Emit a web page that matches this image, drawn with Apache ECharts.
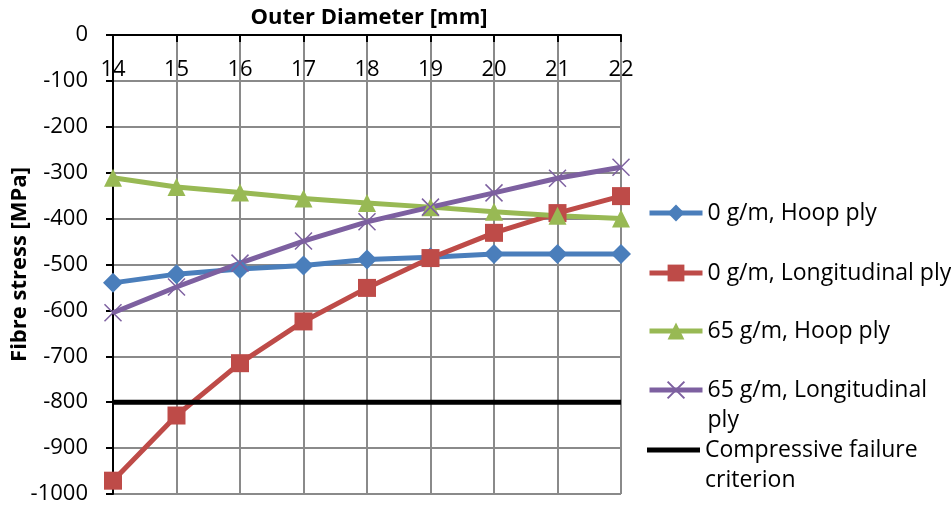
<!DOCTYPE html>
<html>
<head>
<meta charset="utf-8">
<script src="https://cdn.jsdelivr.net/npm/echarts@6/dist/echarts.min.js"></script>
<style>
  html, body { margin: 0; padding: 0; background: #fff; }
  #chart { width: 951px; height: 505px; }
</style>
</head>
<body>
<div id="chart"></div>
<script>
// Outer diameter (mm)
var diameters = ['14', '15', '16', '17', '18', '19', '20', '21', '22'];

// Fibre stress (MPa) per configuration
var hoop0 = [-540, -521, -510, -502, -489, -484, -477, -477, -477];
var longitudinal0 = [-971, -829, -715, -624, -551, -486, -431, -388, -351];
var hoop65 = [-311, -331, -343, -356, -366, -375, -385, -394, -400];
var longitudinal65 = [-605, -549, -497, -449, -407, -375, -344, -312, -288];
var failureCriterion = [-800, -800, -800, -800, -800, -800, -800, -800, -800];

var seriesNames = [
  '0 g/m, Hoop ply',
  '0 g/m, Longitudinal ply',
  '65 g/m, Hoop ply',
  '65 g/m, Longitudinal ply',
  'Compressive failure criterion'
];

// Wrapped legend labels; the leading blank line keeps the icon level with the first line
var legendLabels = {};
legendLabels[seriesNames[3]] = '\n65 g/m, Longitudinal\nply';
legendLabels[seriesNames[4]] = '\nCompressive failure\ncriterion';

var FONT = 'Open Sans';
var crossPath = 'path://M0,0L10,10M10,0L0,10';

function lineSeries(name, data, color, symbol, size, width, extra) {
  var s = {
    name: name,
    type: 'line',
    data: data,
    symbol: symbol,
    symbolSize: size,
    showSymbol: symbol !== 'none',
    lineStyle: { color: color, width: width },
    itemStyle: { color: color },
    emphasis: { disabled: true },
    animation: false
  };
  if (extra) Object.assign(s.itemStyle, extra);
  return s;
}

function legendItem(name, top, opts) {
  opts = opts || {};
  return {
    data: [opts.icon ? { name: name, icon: opts.icon } : name],
    orient: 'vertical',
    left: 647,
    top: top,
    padding: 0,
    itemWidth: 53,
    itemHeight: opts.itemHeight || 21,
    itemGap: 0,
    selectedMode: false,
    lineStyle: { width: 5 },
    formatter: function (n) { return legendLabels[n] || n; },
    textStyle: {
      fontFamily: FONT,
      fontSize: 23,
      color: '#000',
      lineHeight: 30
    }
  };
}

var chart = echarts.init(document.getElementById('chart'), null, { renderer: 'canvas' });
chart.setOption({
  backgroundColor: '#fff',
  animation: false,
  title: {
    text: 'Outer Diameter [mm]',
    left: 364,
    top: 2,
    textAlign: 'center',
    textStyle: { fontFamily: FONT, fontSize: 22, fontWeight: 'bold', color: '#000' }
  },
  grid: {
    left: 113, right: 330, top: 35, bottom: 11,
    containLabel: false,
    outerBoundsMode: 'none'
  },
  legend: [
    legendItem(seriesNames[0], 198),
    legendItem(seriesNames[1], 258),
    legendItem(seriesNames[2], 316),
    legendItem(seriesNames[3], 345),
    legendItem(seriesNames[4], 405, { icon: 'rect', itemHeight: 5 })
  ],
  xAxis: {
    type: 'category',
    data: diameters,
    position: 'top',
    boundaryGap: false,
    axisLine: { onZero: false, lineStyle: { color: '#000', width: 2 } },
    axisTick: { show: true, inside: true, length: 7, lineStyle: { color: '#000', width: 2 } },
    axisLabel: { inside: true, margin: 24, fontFamily: FONT, fontSize: 22, color: '#000' },
    splitLine: { show: true, lineStyle: { color: '#8a8a8a', width: 2 } }
  },
  yAxis: {
    type: 'value',
    name: 'Fibre stress [MPa]',
    nameLocation: 'middle',
    nameGap: 82,
    nameMoveOverlap: false,
    nameTextStyle: { fontFamily: FONT, fontSize: 22, fontWeight: 'bold', color: '#000' },
    min: -1000,
    max: 0,
    interval: 100,
    axisLine: { show: true, lineStyle: { color: '#000', width: 2 } },
    axisTick: { show: true, length: 7, lineStyle: { color: '#000', width: 2 } },
    axisLabel: {
      margin: 25,
      fontFamily: FONT,
      fontSize: 22,
      color: '#000',
      formatter: function (v) { return String(v); }
    },
    splitLine: { show: true, lineStyle: { color: '#8a8a8a', width: 2 } }
  },
  series: [
    lineSeries(seriesNames[0], hoop0, '#4a7ebb', 'diamond', 20, 5),
    lineSeries(seriesNames[1], longitudinal0, '#be4b48', 'rect', 18, 5),
    lineSeries(seriesNames[2], hoop65, '#98b954', 'triangle', 18, 5),
    lineSeries(seriesNames[3], longitudinal65, '#7d60a0', crossPath, 17, 5,
      { borderColor: '#7d60a0', borderWidth: 1.5 }),
    lineSeries(seriesNames[4], failureCriterion, '#000000', 'none', 0, 5)
  ]
});
</script>
</body>
</html>
